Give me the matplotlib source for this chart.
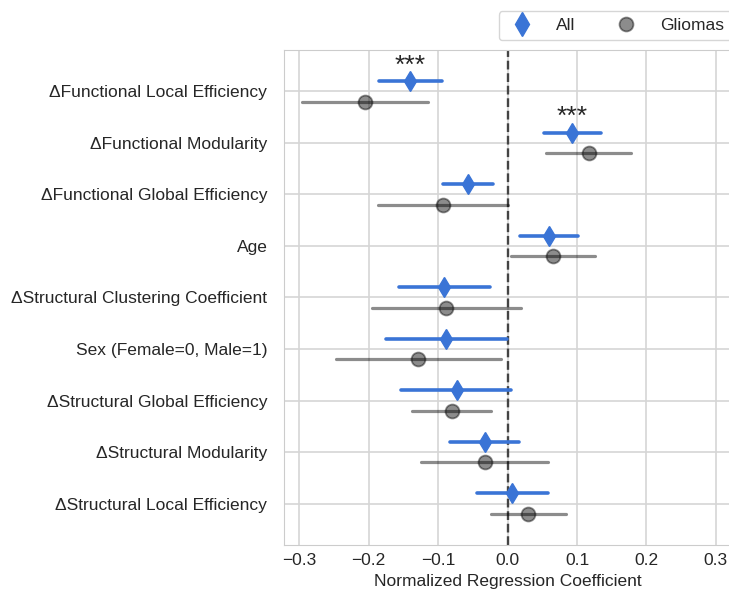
import numpy as np
import matplotlib
matplotlib.use('Agg')
import matplotlib.pyplot as plt
from matplotlib.lines import Line2D
import seaborn as sns

sns.set_style('whitegrid')
plt.rcParams['font.family'] = ['Liberation Sans', 'DejaVu Sans']

labels = ['\u0394Functional Local Efficiency', '\u0394Functional Modularity',
          '\u0394Functional Global Efficiency', 'Age',
          '\u0394Structural Clustering Coefficient', 'Sex (Female=0, Male=1)',
          '\u0394Structural Global Efficiency', '\u0394Structural Modularity',
          '\u0394Structural Local Efficiency']

# "All" group: coefficient and CI bounds
all_mean = [-0.140, 0.093, -0.057, 0.060, -0.092, -0.088, -0.073, -0.033, 0.006]
all_lo = [-0.185, 0.052, -0.093, 0.018, -0.157, -0.175, -0.154, -0.083, -0.044]
all_hi = [-0.094, 0.135, -0.021, 0.101, -0.026, -0.001, 0.005, 0.016, 0.058]

# "Gliomas" group
gli_mean = [-0.205, 0.117, -0.093, 0.065, -0.088, -0.129, -0.080, -0.033, 0.030]
gli_lo = [-0.296, 0.056, -0.187, 0.005, -0.196, -0.247, -0.137, -0.125, -0.024]
gli_hi = [-0.115, 0.178, 0.000, 0.126, 0.020, -0.010, -0.024, 0.058, 0.084]

signif = ['***', '***', '', '', '', '', '', '', '']

blue = '#3a74d6'
dodge = 0.2
fs = 12.5

fig = plt.figure(figsize=(7.29, 5.99), dpi=100)
ax = fig.add_axes([0.3896, 0.0902, 0.6134, 0.8263])

ypos = np.arange(len(labels))
all_mean = np.array(all_mean)
gli_mean = np.array(gli_mean)

# confidence intervals
for i in ypos:
    ax.plot([all_lo[i], all_hi[i]], [i - dodge, i - dodge], color=blue, lw=2.6, zorder=3)
    ax.plot([gli_lo[i], gli_hi[i]], [i + dodge, i + dodge], color='black', alpha=0.45,
            lw=2.3, zorder=3)

ax.plot(all_mean, ypos - dodge, ls='none', marker='d', ms=10.5, color=blue,
        markeredgecolor=blue, zorder=4)
ax.plot(gli_mean, ypos + dodge, ls='none', marker='o', ms=10, markerfacecolor='black',
        markeredgecolor='black', markeredgewidth=1.3, alpha=0.45, zorder=4)

for i, s in enumerate(signif):
    if s:
        ax.text(all_mean[i], i - dodge - 0.3, s, ha='center', va='center',
                fontsize=19, color='#262626')

ax.axvline(0, color='#444444', ls='--', lw=1.7, zorder=2)

ax.set_ylim(8.8, -0.8)
ax.set_xlim(-0.322, 0.322)
ax.set_yticks(ypos)
ax.set_yticklabels(labels)
ax.set_xticks([-0.3, -0.2, -0.1, 0.0, 0.1, 0.2, 0.3])
ax.set_xticklabels(['\u22120.3', '\u22120.2', '\u22120.1', '0.0', '0.1', '0.2', '0.3'])
ax.tick_params(axis='both', labelsize=fs, length=0, colors='#262626')
ax.tick_params(axis='y', pad=12)
ax.tick_params(axis='x', pad=6)
ax.set_xlabel('Normalized Regression Coefficient', fontsize=fs, color='#262626', labelpad=4)
ax.grid(True, color='#d5d5d5', lw=1.2)
for sp in ax.spines.values():
    sp.set_color('#cccccc')

handles = [Line2D([], [], color=blue, marker='d', ms=12, lw=0),
           Line2D([], [], color='black', alpha=0.45, marker='o', ms=10, lw=0,
                  markeredgewidth=1.3)]
ax.legend(handles, ['All', 'Gliomas'], ncol=2, loc='lower right',
          bbox_to_anchor=(1.0, 1.02), borderaxespad=0, fontsize=fs,
          frameon=True, columnspacing=2.0, handlelength=1.9, handletextpad=1.0)

fig.savefig('out.png', dpi=100)
